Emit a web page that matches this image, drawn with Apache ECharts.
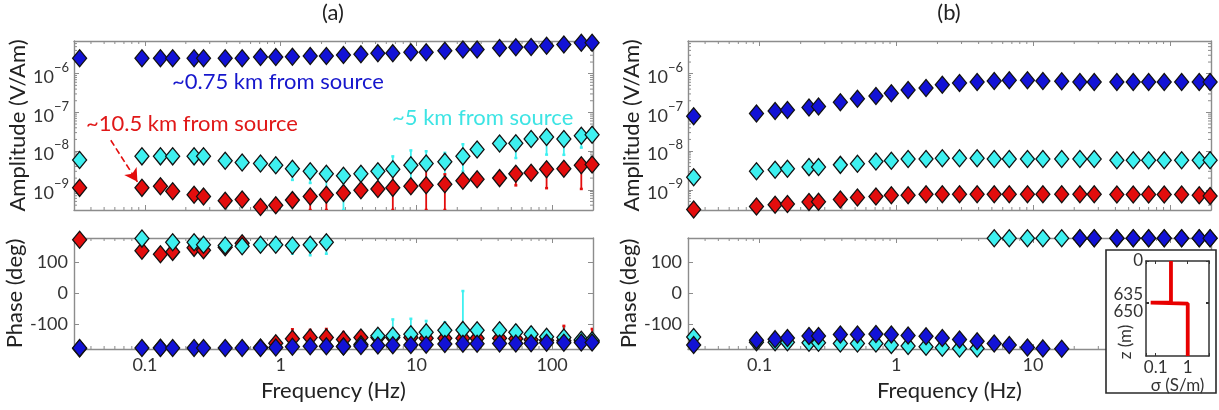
<!DOCTYPE html>
<html><head><meta charset="utf-8">
<script src="https://cdn.jsdelivr.net/npm/echarts@6/dist/echarts.min.js"></script>
<style>html,body{margin:0;padding:0;background:#fff}#c{width:1219px;height:410px}</style>
</head><body><div id="c"></div>
<script>
// ---------------- data ----------------
const freqs = [0.033, 0.095, 0.13, 0.16, 0.23, 0.27, 0.39, 0.52, 0.71, 0.92,
  1.22, 1.65, 2.17, 2.9, 3.9, 5.2, 6.7, 9.1, 11.8, 16.2,
  22, 28, 41, 54, 70, 91, 122, 164, 197];

const ampA_blue = [2.5e-6, 2.5e-6, 2.5e-6, 2.5e-6, 2.5e-6, 2.5e-6, 2.5e-6, 2.5e-6, 2.7e-6, 2.7e-6,
  2.75e-6, 2.85e-6, 2.85e-6, 3.05e-6, 3.2e-6, 3.4e-6, 3.4e-6, 3.6e-6, 3.6e-6, 3.9e-6,
  4.2e-6, 4.2e-6, 4.6e-6, 4.8e-6, 4.9e-6, 5.3e-6, 5.7e-6, 6.3e-6, 6.3e-6];
const ampA_cyan = [5.9e-9, 7.3e-9, 7.3e-9, 7.3e-9, 7.3e-9, 7.3e-9, 5.6e-9, 5.1e-9, 4.8e-9, 4.3e-9,
  3.5e-9, 3.0e-9, 2.6e-9, 2.3e-9, 2.6e-9, 3.0e-9, 3.4e-9, 4.3e-9, 4.8e-9, 5.3e-9,
  7.3e-9, 1.1e-8, 1.57e-8, 1.6e-8, 2.06e-8, 2.3e-8, 2.06e-8, 2.5e-8, 2.65e-8];
const ampA_red = [1.12e-9, 1.12e-9, 1.24e-9, 9.1e-10, 7.4e-10, 6.7e-10, 5.2e-10, 5.6e-10, 3.6e-10, 4.0e-10,
  5.4e-10, 6.7e-10, 7.4e-10, 8.2e-10, 9.7e-10, 1.05e-9, 1.12e-9, 1.24e-9, 1.3e-9, 1.38e-9,
  1.7e-9, 1.88e-9, 2.0e-9, 2.58e-9, 2.74e-9, 3.38e-9, 3.5e-9, 4.3e-9, 4.5e-9];

const phA_red = [174, 139, 127, 135, 148, 140, 150, 163, -175, -161,
  -147, -143, -143, -149, -143, -143, -143, -143, -145, -145,
  -145, -145, -145, -147, -150, -152, -153, -153, -155];
const phA_cyan = [-178, 178, -176, 166, 166, 158, 156, 153, 158, 158,
  156, 158, 166, -172, -165, -137, -137, -132, -126, -119,
  -118, -119, -119, -126, -132, -140, -143, -150, -152];
const phA_blue = [-177, -177, -177, -177, -177, -177, -177, -177, -177, -175,
  -173, -171, -171, -172, -170, -169, -168, -167, -166, -164,
  -163, -163, -162, -162, -161, -160, -160, -159, -159];

const ampB_blue = [7.9e-8, 9.3e-8, 1.08e-7, 1.15e-7, 1.33e-7, 1.42e-7, 1.82e-7, 2.24e-7, 2.65e-7, 3.13e-7,
  3.77e-7, 4.28e-7, 5.16e-7, 5.73e-7, 6.1e-7, 6.5e-7, 6.8e-7, 6.8e-7, 6.5e-7, 6.4e-7,
  6.1e-7, 6.1e-7, 6.1e-7, 6.1e-7, 6.1e-7, 6.1e-7, 6.1e-7, 6.1e-7, 6.1e-7];
const ampB_cyan = [2.1e-9, 3.0e-9, 3.3e-9, 3.5e-9, 3.85e-9, 3.9e-9, 4.4e-9, 4.7e-9, 5.4e-9, 5.6e-9,
  6.2e-9, 6.2e-9, 6.5e-9, 6.5e-9, 6.5e-9, 6.2e-9, 6.2e-9, 6.2e-9, 6.2e-9, 6.2e-9,
  6.2e-9, 6.2e-9, 5.8e-9, 5.8e-9, 5.8e-9, 5.8e-9, 5.8e-9, 5.8e-9, 5.8e-9];
const ampB_red = [3.1e-10, 3.7e-10, 4.1e-10, 4.3e-10, 4.8e-10, 4.9e-10, 5.6e-10, 6.3e-10, 6.7e-10, 7.2e-10,
  7.2e-10, 7.7e-10, 7.7e-10, 7.7e-10, 7.7e-10, 7.7e-10, 7.7e-10, 7.7e-10, 7.7e-10, 7.7e-10,
  7.7e-10, 7.7e-10, 7.5e-10, 7.5e-10, 7.5e-10, 7.5e-10, 7.5e-10, 7.2e-10, 6.9e-10];

const phB_blue = [-167, -152, -148, -144, -138, -138, -133, -133, -131, -133,
  -136, -139, -144, -149, -155, -162, -167, -175, -178, -179,
  179, 179, 179, 179, 179, 179, 179, 179, 179];
const phB_cyan = [-141, -158, -158, -158, -160, -160, -162, -162, -162, -167,
  -170, -173, -176, -178, -178, 179, 179, 179, 179, 179,
  179, 179, 179, 179, 179, 179, 179, 179, 179];

// error bars: [frequency, low, high]
const errAmpA_cyan = [[1.22, 1.8e-9, 4.5e-9], [1.65, 1.5e-9, 4.2e-9], [2.17, 6e-10, 3.5e-9], [2.9, 3e-10, 3e-9],
  [5.2, 1.5e-9, 3.6e-9], [6.7, 1.5e-9, 7.3e-9], [9.1, 1.5e-9, 1.04e-8], [11.8, 1.5e-9, 9.9e-9],
  [16.2, 1.5e-9, 9.0e-9], [22, 3e-9, 1.5e-8], [54, 6.6e-9, 1.6e-8], [91, 8.1e-9, 2.3e-8],
  [122, 8e-9, 2.2e-8], [164, 1.23e-8, 2.5e-8]];
const errAmpA_red = [[1.65, 3e-10, 6.7e-10], [2.17, 3e-10, 7.4e-10], [6.7, 3e-10, 4.3e-9], [11.8, 3e-10, 5.1e-9],
  [16.2, 3e-10, 2.5e-9], [22, 1.2e-9, 2.1e-9], [54, 1.3e-9, 3e-9], [91, 1.1e-9, 4e-9], [164, 1.05e-9, 5e-9]];
const errPhA_cyan = [[1.22, 129, 160], [1.65, 124, 160], [2.17, 129, 170], [5.2, -150, -125], [6.7, -155, -84],
  [9.1, -150, -82], [11.8, -145, -89], [16.2, -140, -93], [22, -140, 8], [28, -135, -105], [41, -135, -108],
  [54, -140, -103], [70, -145, -110], [122, -150, -110]];
const errPhA_red = [[1.22, -160, -116], [1.65, -155, -118], [2.17, -155, -115], [2.9, -160, -125],
  [122, -160, -105], [197, -165, -115]];

// tick labels
const phaseTickLabels = [-100, 0, 100];
const insetDepthTicks = [0, 635, 650];
const insetDepthLabels = ['0', '635', '650'];

// inset: conductivity model
const insetSigma = [0.3, 0.3, 0.07, 0.07, 1, 1];
const insetDepth = [0, 635, 635, 650, 650, 1450];

// ---------------- styling ----------------
const FF = 'Lato, "Open Sans", "DejaVu Sans", sans-serif';
const AXC = '#8c8c8c';
const TXT = '#333';
const BLUE = '#1212d6', CYAN = '#3ef0f0', RED = '#e30d0d';
const AMP_MIN = 3e-10, AMP_MAX = 7e-6, F_MIN = 0.03, F_MAX = 200;

function isPow10(v) { const e = Math.log10(v); return Math.abs(e - Math.round(e)) < 1e-6; }
function freqFmt(v) { return isPow10(v) ? String(parseFloat(v.toPrecision(6))) : ''; }
function ampFmt(v) { if (!isPow10(v)) return ''; return '{b|10}{s|\u2212' + (-Math.round(Math.log10(v))) + '}'; }

function minorLog(min, max) {
  const out = [];
  for (let e = Math.floor(Math.log10(min)); e <= Math.ceil(Math.log10(max)); e++) {
    for (let m = 2; m <= 9; m++) {
      const v = parseFloat((m * Math.pow(10, e)).toPrecision(4));
      if (v > min * 1.001 && v < max * 0.999) out.push(v);
    }
  }
  return out;
}

const grids = [
  {left: 74, top: 41, width: 519, height: 169},
  {left: 74, top: 238, width: 519, height: 111},
  {left: 688, top: 41, width: 523, height: 169},
  {left: 688, top: 238, width: 523, height: 111},
  {left: 1146, top: 261, width: 63, height: 95}
].map(g => Object.assign({containLabel: false, outerBoundsMode: 'none', show: false}, g));

const lineSt = {color: AXC, width: 1.4};
const xAxes = [], yAxes = [];
for (let g = 0; g < 4; g++) {
  const isPhase = g % 2 === 1;
  ['bottom', 'top'].forEach(pos => {
    const lab = isPhase && pos === 'bottom';
    xAxes.push({
      type: 'log', logBase: 10, gridIndex: g, position: pos, min: F_MIN, max: F_MAX,
      axisLine: {show: true, onZero: false, lineStyle: lineSt},
      axisTick: {show: true, inside: true, length: 5, lineStyle: {color: AXC, width: 1}},
      axisLabel: {show: lab, formatter: freqFmt, fontSize: 18, color: TXT, fontFamily: FF, margin: 7},
      splitLine: {show: false},
      name: lab ? 'Frequency (Hz)' : '', nameLocation: 'middle', nameGap: 31,
      nameTextStyle: {fontSize: 22, color: '#222', fontFamily: FF}
    });
  });
  ['left', 'right'].forEach(pos => {
    const lab = pos === 'left';
    if (isPhase) {
      yAxes.push({
        type: 'value', gridIndex: g, position: pos, min: -180, max: 180,
        axisLine: {show: true, onZero: false, lineStyle: lineSt},
        axisTick: {show: true, inside: true, length: 5, customValues: phaseTickLabels, lineStyle: {color: AXC, width: 1}},
        axisLabel: {show: lab, customValues: phaseTickLabels, fontSize: 18, color: TXT, fontFamily: FF, margin: 6,
          formatter: v => (v < 0 ? '-' + Math.abs(v) : String(v))},
        splitLine: {show: false},
        name: lab ? 'Phase (deg)' : '', nameLocation: 'middle', nameGap: 42,
        nameTextStyle: {fontSize: 22, color: '#222', fontFamily: FF}
      });
    } else {
      yAxes.push({
        type: 'log', logBase: 10, gridIndex: g, position: pos, min: AMP_MIN, max: AMP_MAX,
        axisLine: {show: true, onZero: false, lineStyle: lineSt},
        axisTick: {show: true, inside: true, length: 5, lineStyle: {color: AXC, width: 1}},
        axisLabel: {show: lab, formatter: ampFmt, margin: 5,
          rich: {b: {fontSize: 18, color: TXT, fontFamily: FF, verticalAlign: 'bottom', lineHeight: 25},
                 s: {fontSize: 13, color: TXT, fontFamily: FF, verticalAlign: 'top', lineHeight: 13}}},
        splitLine: {show: false},
        name: lab ? 'Amplitude (V/Am)' : '', nameLocation: 'middle', nameGap: 42,
        nameTextStyle: {fontSize: 22, color: '#222', fontFamily: FF}
      });
    }
  });
}
// inset axes (index 8,9)
['bottom', 'top'].forEach(pos => {
  const lab = pos === 'bottom';
  xAxes.push({
    type: 'log', logBase: 10, gridIndex: 4, position: pos, min: 0.05, max: 4.6, z: 60,
    axisLine: {show: true, onZero: false, lineStyle: {color: '#333', width: 1.5}},
    axisTick: {show: true, inside: true, length: 3, lineStyle: {color: '#333'}},
    axisLabel: {show: lab, formatter: freqFmt, fontSize: 17, color: '#333', fontFamily: FF, margin: 3},
    splitLine: {show: false},
    name: lab ? '\u03c3 (S/m)' : '', nameLocation: 'middle', nameGap: 20,
    nameTextStyle: {fontSize: 17, color: '#333', fontFamily: FF}
  });
});
['left', 'right'].forEach(pos => {
  const lab = pos === 'left';
  yAxes.push({
    type: 'value', gridIndex: 4, position: pos, min: 0, max: 1450, inverse: true, z: 60,
    axisLine: {show: true, onZero: false, lineStyle: {color: '#333', width: 1.5}},
    axisTick: {show: true, inside: true, length: 3, customValues: insetDepthTicks, lineStyle: {color: '#333'}},
    axisLabel: {show: false},
    splitLine: {show: false}
  });
});

// ---------------- series ----------------
function sc(vals, color, g) {
  return {
    type: 'scatter', data: freqs.map((f, i) => [f, vals[i]]),
    xAxisIndex: 2 * g, yAxisIndex: 2 * g, symbol: 'diamond', symbolSize: [14, 17], clip: false,
    itemStyle: {color: color, borderColor: '#121212', borderWidth: 1.3, opacity: 1},
    silent: true, z: 5, emphasis: {disabled: true}
  };
}
function err(data, color, g) {
  return {
    type: 'custom', data: data, xAxisIndex: 2 * g, yAxisIndex: 2 * g, clip: true, silent: true, z: 4,
    encode: {x: 0, y: [1, 2]},
    renderItem: function (params, api) {
      const p1 = api.coord([api.value(0), api.value(1)]);
      const p2 = api.coord([api.value(0), api.value(2)]);
      return {type: 'group', children: [
        {type: 'line', shape: {x1: p1[0], y1: p1[1], x2: p2[0], y2: p2[1]}, style: {stroke: color, lineWidth: 1.8}},
        {type: 'line', shape: {x1: p1[0] - 1.5, y1: p1[1], x2: p1[0] + 1.5, y2: p1[1]}, style: {stroke: color, lineWidth: 2.5}},
        {type: 'line', shape: {x1: p2[0] - 1.5, y1: p2[1], x2: p2[0] + 1.5, y2: p2[1]}, style: {stroke: color, lineWidth: 2.5}}
      ]};
    }
  };
}
const minorF = minorLog(F_MIN, F_MAX);
const minorA = minorLog(AMP_MIN, AMP_MAX);
function minorTicks(g, isPhase) {
  const yRef = isPhase ? 0 : 1e-8;
  const data = minorF.map(v => [v, yRef, 0]);
  if (!isPhase) minorA.forEach(v => data.push([1, v, 1]));
  return {
    type: 'custom', data: data, xAxisIndex: 2 * g, yAxisIndex: 2 * g, silent: true, z: 1, clip: false,
    encode: {x: 0, y: 1},
    renderItem: function (params, api) {
      const cs = params.coordSys;
      const p = api.coord([api.value(0), api.value(1)]);
      const st = {stroke: AXC, lineWidth: 1};
      const L = 3;
      if (api.value(2) === 0) {
        return {type: 'group', children: [
          {type: 'line', shape: {x1: p[0], y1: cs.y + cs.height, x2: p[0], y2: cs.y + cs.height - L}, style: st},
          {type: 'line', shape: {x1: p[0], y1: cs.y, x2: p[0], y2: cs.y + L}, style: st}]};
      }
      return {type: 'group', children: [
        {type: 'line', shape: {x1: cs.x, y1: p[1], x2: cs.x + L, y2: p[1]}, style: st},
        {type: 'line', shape: {x1: cs.x + cs.width, y1: p[1], x2: cs.x + cs.width - L, y2: p[1]}, style: st}]};
    }
  };
}
// inset depth labels, placed via the inset y scale (635/650 spread apart as in the original)
const insetLabelShift = [0, -8, 8];
const insetDepthLabelSeries = {
  type: 'custom', data: insetDepthTicks.map((d, i) => [0.05, d, i]), xAxisIndex: 8, yAxisIndex: 8,
  silent: true, z: 62, clip: false, encode: {x: 0, y: 1},
  renderItem: function (params, api) {
    const i = api.value(2);
    const p = api.coord([api.value(0), api.value(1)]);
    return {type: 'text', x: p[0] - 3, y: p[1] + insetLabelShift[i],
      style: {text: insetDepthLabels[i], font: '17px ' + FF, fill: '#333', align: 'right', verticalAlign: 'middle',
        textAlign: 'right', textVerticalAlign: 'middle'}};
  }
};

const redA = sc(ampA_red, RED, 0);
redA.markLine = {
  silent: true, symbolSize: [11, 13], animation: false,
  lineStyle: {type: 'dashed', color: RED, width: 1.6}, label: {show: false},
  data: [[{coord: [0.056, 1.9e-8], symbol: 'none'}, {coord: [0.088, 1.6e-9], symbol: 'arrow'}]]
};

const series = [
  minorTicks(0, false), minorTicks(1, true), minorTicks(2, false), minorTicks(3, true),
  err(errAmpA_cyan, CYAN, 0), err(errAmpA_red, RED, 0),
  redA, sc(ampA_cyan, CYAN, 0), sc(ampA_blue, BLUE, 0),
  err(errPhA_cyan, CYAN, 1), err(errPhA_red, RED, 1),
  sc(phA_red, RED, 1), sc(phA_cyan, CYAN, 1), sc(phA_blue, BLUE, 1),
  sc(ampB_red, RED, 2), sc(ampB_cyan, CYAN, 2), sc(ampB_blue, BLUE, 2),
  sc(phB_cyan, CYAN, 3), sc(phB_blue, BLUE, 3),
  {type: 'line', data: insetSigma.map((s, i) => [s, insetDepth[i]]), xAxisIndex: 8, yAxisIndex: 8,
   showSymbol: false, symbol: 'none', silent: true, z: 61, clip: true,
   lineStyle: {color: '#e80000', width: 3.8}},
  insetDepthLabelSeries
];

function txt(text, x, y, size, color, align, extra) {
  return Object.assign({type: 'text', x: x, y: y, z: 70, silent: true,
    style: {text: text, font: size + 'px ' + FF, fill: color, align: align || 'left', verticalAlign: 'middle',
      textAlign: align || 'left', textVerticalAlign: 'middle'}}, extra || {});
}

const graphic = [
  txt('(a)', 333, 13, 22, '#222', 'center'),
  txt('(b)', 949, 13, 22, '#222', 'center'),
  txt('~0.75 km from source', 172, 82, 22, '#1616cc', 'left'),
  txt('~10.5 km from source', 86, 124, 22, '#e01818', 'left'),
  txt('~5 km from source', 392, 118, 22, '#3ee4e4', 'left'),
  {type: 'rect', z: 50, silent: true, shape: {x: 1106, y: 250, width: 110, height: 143},
   style: {fill: '#fff', stroke: '#2a2a2a', lineWidth: 1.6}},
  txt('z (m)', 1126, 342, 17, '#333', 'center', {rotation: Math.PI / 2})
];

const chart = echarts.init(document.getElementById('c'), null, {renderer: 'canvas'});
chart.setOption({
  animation: false,
  backgroundColor: '#fff',
  grid: grids,
  xAxis: xAxes,
  yAxis: yAxes,
  series: series,
  graphic: graphic
});
</script></body></html>
